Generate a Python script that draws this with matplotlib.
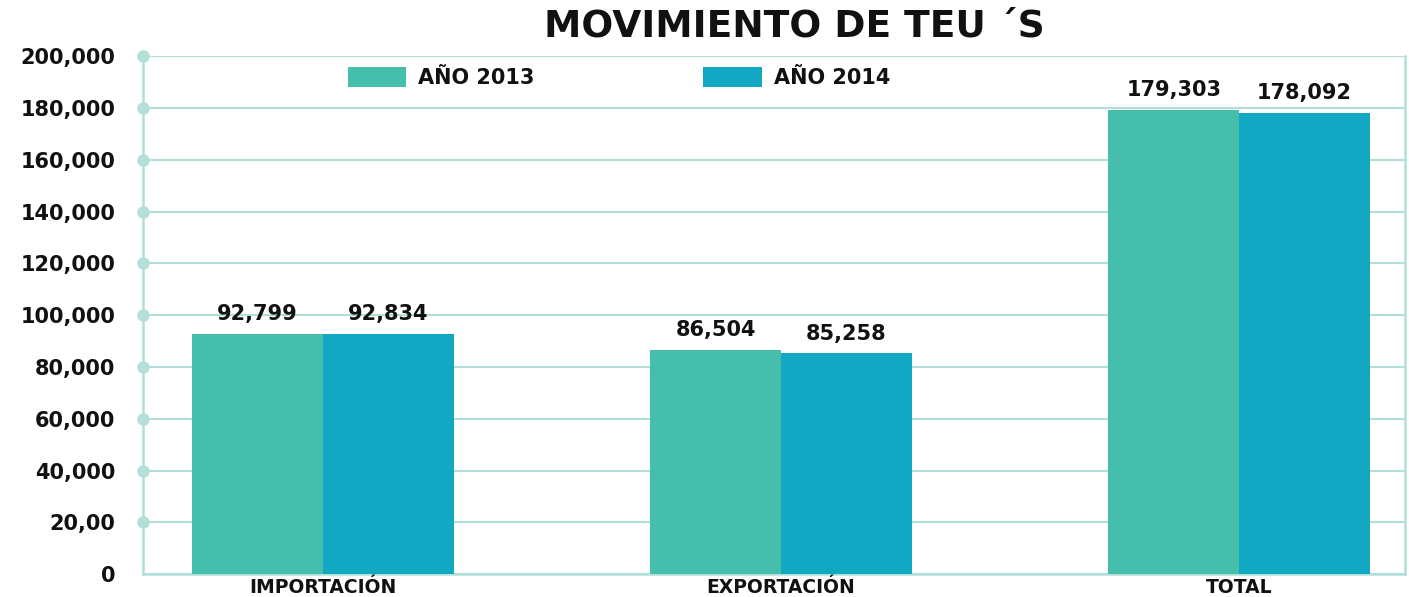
import numpy as np
import matplotlib.pyplot as plt

categories = ['IMPORTACIÓN', 'EXPORTACIÓN', 'TOTAL']
teus_2013 = [92799, 86504, 179303]
teus_2014 = [92834, 85258, 178092]
series_names = ['AÑO 2013', 'AÑO 2014']
y_ticks = [0, 20000, 40000, 60000, 80000, 100000, 120000, 140000, 160000, 180000, 200000]
y_tick_labels = ['0', '20,00', '40,000', '60,000', '80,000', '100,000',
                 '120,000', '140,000', '160,000', '180,000', '200,000']

c2013 = '#45bfab'
c2014 = '#10a8c3'
grid_c = '#b2e0d8'

plt.rcParams['font.family'] = ['DejaVu Sans']

fig = plt.figure(figsize=(14.09, 5.97), dpi=100)
ax = fig.add_axes([0.1015, 0.038, 0.8955, 0.868])

x = np.arange(len(categories))
w = 0.285
b1 = ax.bar(x - w / 2, teus_2013, w, color=c2013, label=series_names[0], zorder=3)
b2 = ax.bar(x + w / 2, teus_2014, w, color=c2014, label=series_names[1], zorder=3)

# value labels above each bar
for bars, vals in [(b1, teus_2013), (b2, teus_2014)]:
    for rect, v in zip(bars, vals):
        ax.annotate(f'{v:,}', (rect.get_x() + rect.get_width() / 2, v),
                    xytext=(0, 7), textcoords='offset points',
                    ha='center', va='bottom', fontsize=15, fontweight='bold',
                    color='#111111', zorder=4)

ax.set_xlim(-0.393, 2.362)
ax.set_ylim(0, 200000)
ax.set_yticks(y_ticks)
ax.set_yticklabels(y_tick_labels, fontsize=15, fontweight='bold', color='#111111')
ax.set_xticks(x)
ax.set_xticklabels(categories, fontsize=13.5, fontweight='bold', color='#111111')
ax.tick_params(axis='y', length=0, pad=20)
ax.tick_params(axis='x', length=0, pad=2.5)
# keep the accents of the category labels above the axis line
ax.xaxis.set_zorder(6)

ax.grid(axis='y', color=grid_c, linewidth=1.5, zorder=1)
for side in ['left', 'bottom', 'right', 'top']:
    ax.spines[side].set_color(grid_c)
    ax.spines[side].set_linewidth(1.8)
ax.spines['top'].set_visible(False)

# dots where gridlines meet the y axis
ax.plot([ax.get_xlim()[0]] * len(y_ticks[1:]), y_ticks[1:], 'o', color=grid_c,
        markersize=8, clip_on=False, zorder=5)

leg = ax.legend(loc='upper left', bbox_to_anchor=(0.149, 1.0115), ncol=2,
                frameon=True, framealpha=1, edgecolor='white', facecolor='white',
                fontsize=15, handlelength=2.8, handleheight=1.1,
                columnspacing=8.1, handletextpad=0.58, borderpad=0.3)
for t in leg.get_texts():
    t.set_fontweight('bold')
    t.set_color('#111111')

fig.text(0.564, 0.955, 'MOVIMIENTO DE TEU ´S', ha='center', va='center',
         fontsize=27, fontweight='bold', color='#111111')

fig.savefig('out.png', dpi=100, facecolor='white')
